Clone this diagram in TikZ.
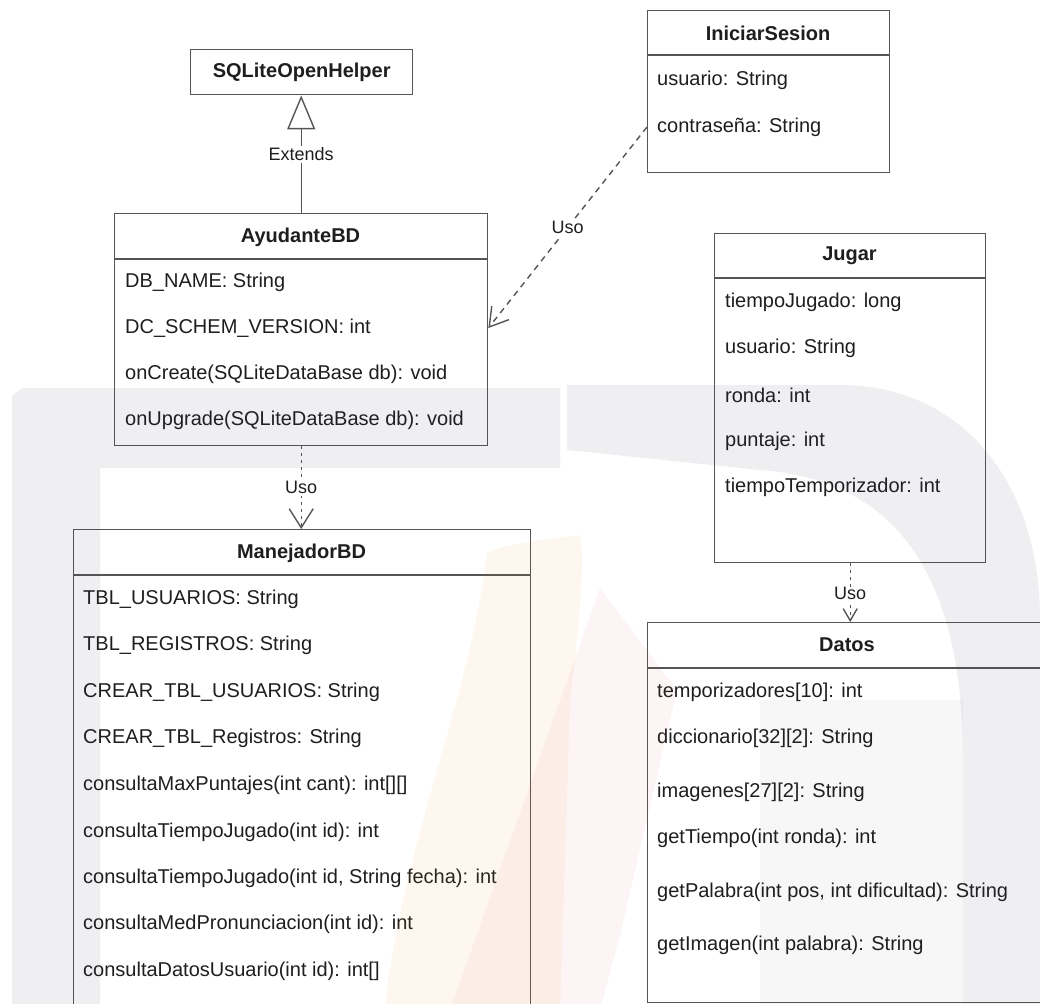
\documentclass[tikz,border=0pt]{standalone}
\usepackage{fontspec}
\setmainfont{Liberation Sans}
\usetikzlibrary{arrows.meta}

\definecolor{linegray}{RGB}{85,85,85}
\definecolor{txt}{RGB}{30,30,30}
\definecolor{wmgray}{RGB}{60,60,100}
\definecolor{wmorange}{RGB}{245,150,50}
\definecolor{wmpink}{RGB}{230,80,95}

\begin{document}
\begin{tikzpicture}[x=1pt,y=-1pt,
  every node/.style={font=\fontsize{20}{24}\selectfont, text=txt},
  classbox/.style={draw=linegray, line width=1.4pt, inner sep=0pt, anchor=north west},
  sepline/.style={draw=linegray, line width=1.4pt},
  ctitle/.style={font=\fontsize{20}{24}\selectfont\bfseries, inner sep=0pt},
  attr/.style={anchor=west, inner sep=0pt},
  rellabel/.style={font=\fontsize{18}{22}\selectfont, fill=white, inner sep=2pt},
  extline/.style={draw=linegray, line width=1.4pt,
    -{Triangle[open, length=34pt, width=28pt, line width=1.4pt]}},
  depline/.style={draw=linegray, line width=1.4pt, dash pattern=on 3pt off 4pt,
    -{Straight Barb[length=19pt, width=24pt, line width=1.4pt]}},
  depdiag/.style={draw=linegray, line width=1.4pt, dash pattern=on 6pt off 5pt,
    -{Straight Barb[length=18pt, width=22pt, line width=1.4pt]}},
  depsmall/.style={draw=linegray, line width=1.4pt, dash pattern=on 3pt off 4pt,
    -{Straight Barb[length=12pt, width=14pt, line width=1.4pt]}},
  wm/.style={fill opacity=0.08}
]
\useasboundingbox (0,0) rectangle (1040,1003);
\clip (0,0) rectangle (1040,1003);
\fill[white] (0,0) rectangle (1040,1003);

% ---------- SQLiteOpenHelper ----------
\node[classbox, minimum width=222pt, minimum height=45pt] (sqlite) at (190,49) {};
\node[ctitle] (sqliteT) at (sqlite.center) {SQLiteOpenHelper};

% ---------- AyudanteBD ----------
\node[classbox, minimum width=373pt, minimum height=232pt] (ayud) at (114,213) {};
\draw[sepline] (114,259) -- (487,259);
\node[ctitle] (ayudT) at (300.5,237) {AyudanteBD};
\node[attr] (a1) at (125,282) {DB\_NAME: String};
\node[attr] (a2) at (125,328) {DC\_SCHEM\_VERSION: int};
\node[attr] (a3) at (125,374) {onCreate(SQLiteDataBase db): void};
\node[attr] (a4) at (125,420) {onUpgrade(SQLiteDataBase db): void};

% ---------- IniciarSesion ----------
\node[classbox, minimum width=242pt, minimum height=162pt] (inic) at (647,10) {};
\draw[sepline] (647,55) -- (889,55);
\node[ctitle] (inicT) at (768,33) {IniciarSesion};
\node[attr] (i1) at (657,80) {usuario: String};
\node[attr] (i2) at (657,127) {contraseña: String};

% ---------- Jugar ----------
\node[classbox, minimum width=271pt, minimum height=329pt] (jug) at (714,233) {};
\draw[sepline] (714,278) -- (985,278);
\node[ctitle] (jugT) at (849.5,256) {Jugar};
\node[attr] (j1) at (725,302) {tiempoJugado: long};
\node[attr] (j2) at (725,348) {usuario: String};
\node[attr] (j3) at (725,395) {ronda: int};
\node[attr] (j4) at (725,441) {puntaje: int};
\node[attr] (j5) at (725,487) {tiempoTemporizador: int};

% ---------- ManejadorBD ----------
\node[classbox, minimum width=457pt, minimum height=500pt] (mane) at (73,529) {};
\draw[sepline] (73,575) -- (530,575);
\node[ctitle] (maneT) at (301.5,553) {ManejadorBD};
\node[attr] (m1) at (83,599) {TBL\_USUARIOS: String};
\node[attr] (m2) at (83,645) {TBL\_REGISTROS: String};
\node[attr] (m3) at (83,692) {CREAR\_TBL\_USUARIOS: String};
\node[attr] (m4) at (83,738) {CREAR\_TBL\_Registros: String};
\node[attr] (m5) at (83,785) {consultaMaxPuntajes(int cant): int[][]};
\node[attr] (m6) at (83,832) {consultaTiempoJugado(int id): int};
\node[attr] (m7) at (83,878) {consultaTiempoJugado(int id, String fecha): int};
\node[attr] (m8) at (83,924) {consultaMedPronunciacion(int id): int};
\node[attr] (m9) at (83,971) {consultaDatosUsuario(int id): int[]};

% ---------- Datos ----------
\node[classbox, minimum width=400pt, minimum height=380pt] (dat) at (647,622) {};
\draw[sepline] (647,668) -- (1047,668);
\node[ctitle] (datT) at (847,645) {Datos};
\node[attr] (d1) at (657,692) {temporizadores[10]: int};
\node[attr] (d2) at (657,738) {diccionario[32][2]: String};
\node[attr] (d3) at (657,792) {imagenes[27][2]: String};
\node[attr] (d4) at (657,838) {getTiempo(int ronda): int};
\node[attr] (d5) at (657,892) {getPalabra(int pos, int dificultad): String};
\node[attr] (d6) at (657,945) {getImagen(int palabra): String};

% ---------- Relations ----------
\draw[extline] (ayud.north) -- (ayud.north |- sqlite.south)
  node[rellabel, pos=0.5] (extL) {Extends};
\draw[depdiag] (inic.west |- i2.west) -- (ayud.east |- a2.west)
  node[rellabel, pos=0.5] (uso1) {Uso};
\draw[depline] (ayud.south) -- (ayud.south |- mane.north)
  node[rellabel, pos=0.5] (uso2) {Uso};
\draw[depsmall] (jug.south) -- (jug.south |- dat.north)
  node[rellabel, pos=0.52, inner sep=1pt] (uso3) {Uso};

% ---------- Background watermark shapes ----------
\fill[wm, wmgray] (12,1010) -- (12,396) -- (22,388) -- (560,388) -- (560,468)
  -- (100,468) -- (100,1010) -- cycle;
\fill[wm, wmgray] (567,385) -- (840,385) .. controls (960,385) and (1040,480) .. (1040,620)
  -- (1040,1010) -- (963,1010) -- (963,760) .. controls (963,580) and (900,480) .. (760,470)
  -- (567,450) -- cycle;
\fill[wm, wmgray, fill opacity=0.04] (760,700) rectangle (963,1010);
\fill[wm, wmorange, fill opacity=0.07] (487,553) .. controls (470,700) and (400,850) .. (385,1010)
  -- (560,1010) -- (570,700) .. controls (580,620) and (585,560) .. (580,535)
  .. controls (540,540) and (500,545) .. (487,553) -- cycle;
\fill[wm, wmpink, fill opacity=0.06] (600,588) -- (677,690) -- (620,935) -- (600,1010) -- (450,1010) -- cycle;
\end{tikzpicture}
\end{document}
